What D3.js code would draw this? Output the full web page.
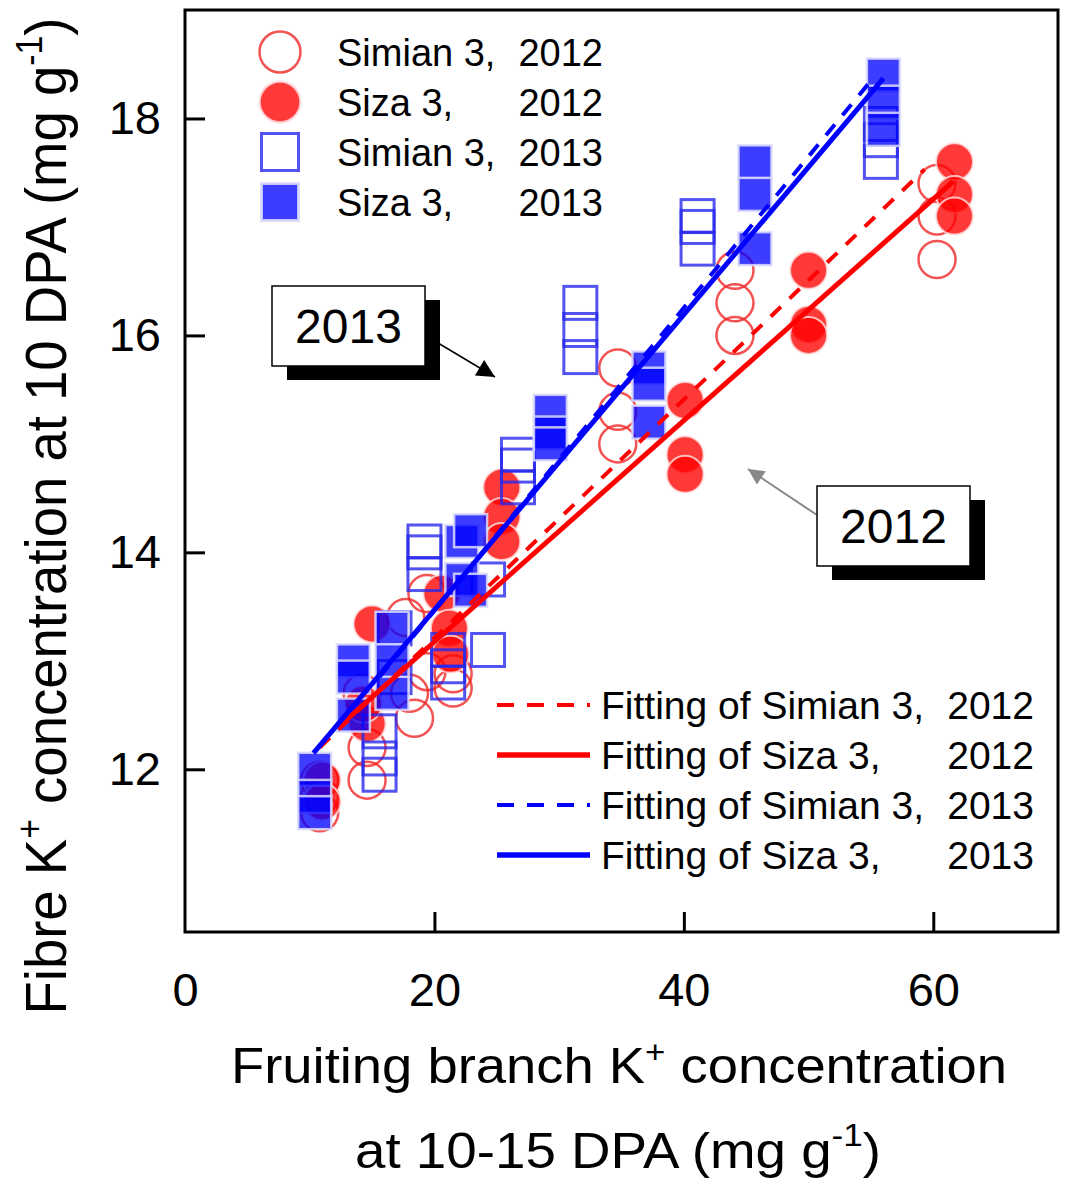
<!DOCTYPE html>
<html>
<head>
<meta charset="utf-8">
<script src="https://cdn.jsdelivr.net/npm/d3@7"></script>
<style>
  body { margin: 0; background: #fff; }
  svg { display: block; font-family: "Liberation Sans", Arial, sans-serif; }
</style>
</head>
<body>
<svg id="chart" width="1066" height="1188"></svg>
<script>
// values, [K+ in fruiting branch, K+ in fibre]
const simian2012 = [
  [10.8, 11.9], [10.8, 11.75], [10.8, 11.6],
  [14.6, 12.2], [14.6, 11.9], [14.2, 12.7],
  [17.7, 13.4], [18.0, 12.7], [18.4, 12.47],
  [19.4, 13.62], [19.4, 12.9], [21.5, 12.88], [21.5, 12.75],
  [34.7, 15.7], [34.7, 15.3], [34.7, 15.0],
  [44.1, 16.6], [44.1, 16.3], [44.1, 16.0],
  [60.3, 17.4], [60.3, 17.1], [60.3, 16.7]
];
const siza2012 = [
  [11.0, 11.9], [11.0, 11.7],
  [14.6, 12.42], [14.3, 12.6], [15.0, 13.34],
  [20.6, 13.62], [21.2, 13.3], [21.3, 13.06],
  [25.4, 14.6], [25.4, 14.33], [25.4, 14.1],
  [40.1, 15.4], [40.1, 14.9], [40.1, 14.72],
  [50.0, 16.6], [50.0, 16.1], [50.0, 16.0],
  [61.7, 17.6], [61.7, 17.3], [61.7, 17.1]
];
const simian2013 = [
  [15.6, 12.35], [15.6, 12.1], [15.6, 11.95],
  [16.8, 13.3], [16.8, 12.85],
  [19.2, 14.1], [19.2, 14.0], [19.2, 13.8],
  [21.1, 13.1], [21.1, 12.95], [21.1, 12.8],
  [24.3, 13.75], [24.3, 13.1],
  [26.7, 14.9], [26.7, 14.8], [26.7, 14.6],
  [31.7, 16.3], [31.7, 16.05], [31.7, 15.8],
  [41.1, 17.1], [41.1, 17.0], [41.1, 16.8],
  [55.8, 17.95], [55.8, 17.8], [55.8, 17.6]
];
const siza2013 = [
  [10.4, 12.0], [10.4, 11.75], [10.4, 11.6],
  [13.5, 13.0], [13.5, 12.85], [13.5, 12.5],
  [16.6, 13.3], [16.6, 13.0], [16.6, 12.7],
  [22.2, 14.1], [22.2, 13.75], [22.9, 14.2], [22.9, 13.65],
  [29.3, 15.3], [29.3, 15.1], [29.3, 15.0],
  [37.2, 15.7], [37.2, 15.55], [37.2, 15.2],
  [45.7, 17.6], [45.7, 17.3], [45.7, 16.8],
  [56.0, 18.4], [56.0, 18.15], [56.0, 17.9]
];

// fitted lines, end points
const fitSimian2012 = [[10.8, 12.2], [59.3, 17.53]];
const fitSiza2012 = [[12.4, 12.4], [61.6, 17.42]];
const fitSimian2013 = [[15.6, 12.85], [55.3, 18.39]];
const fitSiza2013 = [[10.3, 12.15], [56.0, 18.37]];

const xTicks = [0, 20, 40, 60];
const yTicks = [12, 14, 16, 18];

const svg = d3.select("#chart");
const margin = { top: 10, right: 8, bottom: 256, left: 185 };
const width = 1066 - margin.left - margin.right;
const height = 1188 - margin.top - margin.bottom;
const chart = svg.append("g").attr("transform", `translate(${margin.left},${margin.top})`);

const x = d3.scaleLinear().domain([0, 70]).range([0, width]);
const y = d3.scaleLinear().domain([10.5, 19]).range([height, 0]);

const red = "#ff0000";
const blue = "#0000ff";
const circleR = 18.5;
const sq = 33;

// axes, ticks pointing inwards
const xAxis = chart.append("g")
  .attr("transform", `translate(0,${height})`)
  .call(d3.axisBottom(x).tickValues(xTicks).tickSize(-20).tickPadding(41));
const yAxis = chart.append("g")
  .call(d3.axisLeft(y).tickValues(yTicks).tickSize(-20).tickPadding(24).tickFormat(d3.format("d")));
[xAxis, yAxis].forEach(a => {
  a.select(".domain").remove();
  a.selectAll(".tick line").attr("stroke", "#000").attr("stroke-width", 3);
  a.selectAll(".tick text").attr("fill", "#000").style("font-size", "47px");
});
xAxis.selectAll(".tick").filter(d => d === 0).select("line").remove();

// markers
chart.append("g").selectAll("circle")
  .data(simian2012)
  .join("circle")
  .attr("cx", d => x(d[0]))
  .attr("cy", d => y(d[1]))
  .attr("r", circleR)
  .attr("fill", "none")
  .attr("stroke", "rgba(240,40,40,0.8)")
  .attr("stroke-width", 2.5);

chart.append("g").selectAll("circle")
  .data(siza2012)
  .join("circle")
  .attr("cx", d => x(d[0]))
  .attr("cy", d => y(d[1]))
  .attr("r", circleR)
  .attr("fill", "rgba(255,0,0,0.78)")
  .attr("stroke", "rgba(255,225,225,0.8)")
  .attr("stroke-width", 2);

chart.append("g").selectAll("rect")
  .data(simian2013)
  .join("rect")
  .attr("x", d => x(d[0]) - sq / 2)
  .attr("y", d => y(d[1]) - sq / 2)
  .attr("width", sq)
  .attr("height", sq)
  .attr("fill", "none")
  .attr("stroke", "rgba(40,40,235,0.8)")
  .attr("stroke-width", 3);

chart.append("g").selectAll("rect")
  .data(siza2013)
  .join("rect")
  .attr("x", d => x(d[0]) - sq / 2)
  .attr("y", d => y(d[1]) - sq / 2)
  .attr("width", sq)
  .attr("height", sq)
  .attr("fill", "rgba(0,0,255,0.76)")
  .attr("stroke", "rgba(220,220,255,0.85)")
  .attr("stroke-width", 2.5);

// fitted lines
const line = d3.line().x(d => x(d[0])).y(d => y(d[1]));
const fits = [
  { pts: fitSimian2012, color: red, dash: "14,12", w: 4 },
  { pts: fitSiza2012, color: red, dash: null, w: 5 },
  { pts: fitSimian2013, color: blue, dash: "14,12", w: 4 },
  { pts: fitSiza2013, color: blue, dash: null, w: 5 }
];
chart.append("g").selectAll("path")
  .data(fits)
  .join("path")
  .attr("d", d => line(d.pts))
  .attr("fill", "none")
  .attr("stroke", d => d.color)
  .attr("stroke-width", d => d.w)
  .attr("stroke-dasharray", d => d.dash);

// frame
chart.append("rect")
  .attr("width", width)
  .attr("height", height)
  .attr("fill", "none")
  .attr("stroke", "#000")
  .attr("stroke-width", 3);

// top legend (markers)
const legendTop = [
  { name: "Simian 3,", year: "2012", shape: "circle", fill: "none", stroke: "rgba(240,40,40,0.8)" },
  { name: "Siza 3,", year: "2012", shape: "circle", fill: "rgba(255,0,0,0.78)", stroke: "rgba(255,225,225,0.8)" },
  { name: "Simian 3,", year: "2013", shape: "square", fill: "none", stroke: "rgba(40,40,235,0.8)" },
  { name: "Siza 3,", year: "2013", shape: "square", fill: "rgba(0,0,255,0.76)", stroke: "rgba(220,220,255,0.85)" }
];
const lt = svg.append("g");
legendTop.forEach((d, i) => {
  const cy = 52 + i * 50;
  if (d.shape === "circle") {
    lt.append("circle").attr("cx", 280).attr("cy", cy).attr("r", 20.5)
      .attr("fill", d.fill).attr("stroke", d.stroke).attr("stroke-width", 2.5);
  } else {
    lt.append("rect").attr("x", 280 - 18.5).attr("y", cy - 18.5).attr("width", 37).attr("height", 37)
      .attr("fill", d.fill).attr("stroke", d.stroke).attr("stroke-width", 3);
  }
  lt.append("text").attr("x", 337).attr("y", cy).attr("dy", "0.36em")
    .style("font-size", "38px").text(d.name);
  lt.append("text").attr("x", 603).attr("y", cy).attr("dy", "0.36em")
    .attr("text-anchor", "end").style("font-size", "38px").text(d.year);
});

// bottom legend (fitted lines)
const legendFit = [
  { name: "Fitting of Simian 3,", year: "2012", color: red, dash: "17,13", w: 4 },
  { name: "Fitting of Siza 3,", year: "2012", color: red, dash: null, w: 5.5 },
  { name: "Fitting of Simian 3,", year: "2013", color: blue, dash: "17,13", w: 4 },
  { name: "Fitting of Siza 3,", year: "2013", color: blue, dash: null, w: 5.5 }
];
const lf = svg.append("g");
legendFit.forEach((d, i) => {
  const cy = 705 + i * 50;
  lf.append("line").attr("x1", 497).attr("x2", 590).attr("y1", cy).attr("y2", cy)
    .attr("stroke", d.color).attr("stroke-width", d.w).attr("stroke-dasharray", d.dash);
  lf.append("text").attr("x", 601).attr("y", cy).attr("dy", "0.36em")
    .style("font-size", "39px").text(d.name);
  lf.append("text").attr("x", 1034).attr("y", cy).attr("dy", "0.36em")
    .attr("text-anchor", "end").style("font-size", "39px").text(d.year);
});

// arrow heads
const defs = svg.append("defs");
[["arrowBlack", "#000"], ["arrowGrey", "#888"]].forEach(([id, c]) => {
  defs.append("marker").attr("id", id)
    .attr("viewBox", "0 0 10 10").attr("refX", 10).attr("refY", 5)
    .attr("markerWidth", 12).attr("markerHeight", 10).attr("markerUnits", "userSpaceOnUse")
    .attr("orient", "auto")
    .append("path").attr("d", "M0,0 L10,5 L0,10 z").attr("fill", c);
});
defs.select("#arrowBlack").attr("markerWidth", 24).attr("markerHeight", 18);
defs.select("#arrowGrey").attr("markerWidth", 22).attr("markerHeight", 16);

// annotation boxes
function note(bx, by, label) {
  const g = svg.append("g");
  g.append("rect").attr("x", bx + 15).attr("y", by + 14).attr("width", 153).attr("height", 80).attr("fill", "#000");
  g.append("rect").attr("x", bx).attr("y", by).attr("width", 153).attr("height", 80)
    .attr("fill", "#fff").attr("stroke", "#000").attr("stroke-width", 1.5);
  g.append("text").attr("x", bx + 76.5).attr("y", by + 40).attr("dy", "0.36em")
    .attr("text-anchor", "middle").style("font-size", "48px").text(label);
}
svg.append("line").attr("x1", 433).attr("y1", 340).attr("x2", 495).attr("y2", 377)
  .attr("stroke", "#000").attr("stroke-width", 1.5).attr("marker-end", "url(#arrowBlack)");
svg.append("line").attr("x1", 817).attr("y1", 515).attr("x2", 748).attr("y2", 469)
  .attr("stroke", "#888").attr("stroke-width", 2).attr("marker-end", "url(#arrowGrey)");
note(272, 286, "2013");
note(817, 486, "2012");

// axis titles
const xt1 = svg.append("text").attr("x", 619).attr("y", 1083).attr("text-anchor", "middle")
  .style("font-size", "50px").attr("textLength", 776).attr("lengthAdjust", "spacingAndGlyphs");
xt1.append("tspan").text("Fruiting branch K");
xt1.append("tspan").attr("dy", -20).style("font-size", "32px").text("+");
xt1.append("tspan").attr("dy", 20).text(" concentration");

const xt2 = svg.append("text").attr("x", 618).attr("y", 1168).attr("text-anchor", "middle")
  .style("font-size", "50px").attr("textLength", 526).attr("lengthAdjust", "spacingAndGlyphs");
xt2.append("tspan").text("at 10-15 DPA (mg g");
xt2.append("tspan").attr("dy", -22).style("font-size", "32px").text("-1");
xt2.append("tspan").attr("dy", 22).text(")");

const yt = svg.append("text").attr("transform", "translate(66,516) rotate(-90)")
  .attr("text-anchor", "middle").style("font-size", "58px")
  .attr("textLength", 997).attr("lengthAdjust", "spacingAndGlyphs");
yt.append("tspan").text("Fibre K");
yt.append("tspan").attr("dy", -24).style("font-size", "36px").text("+");
yt.append("tspan").attr("dy", 24).text(" concentration at 10 DPA (mg g");
yt.append("tspan").attr("dy", -24).style("font-size", "36px").text("-1");
yt.append("tspan").attr("dy", 24).text(")");
</script>
</body>
</html>
